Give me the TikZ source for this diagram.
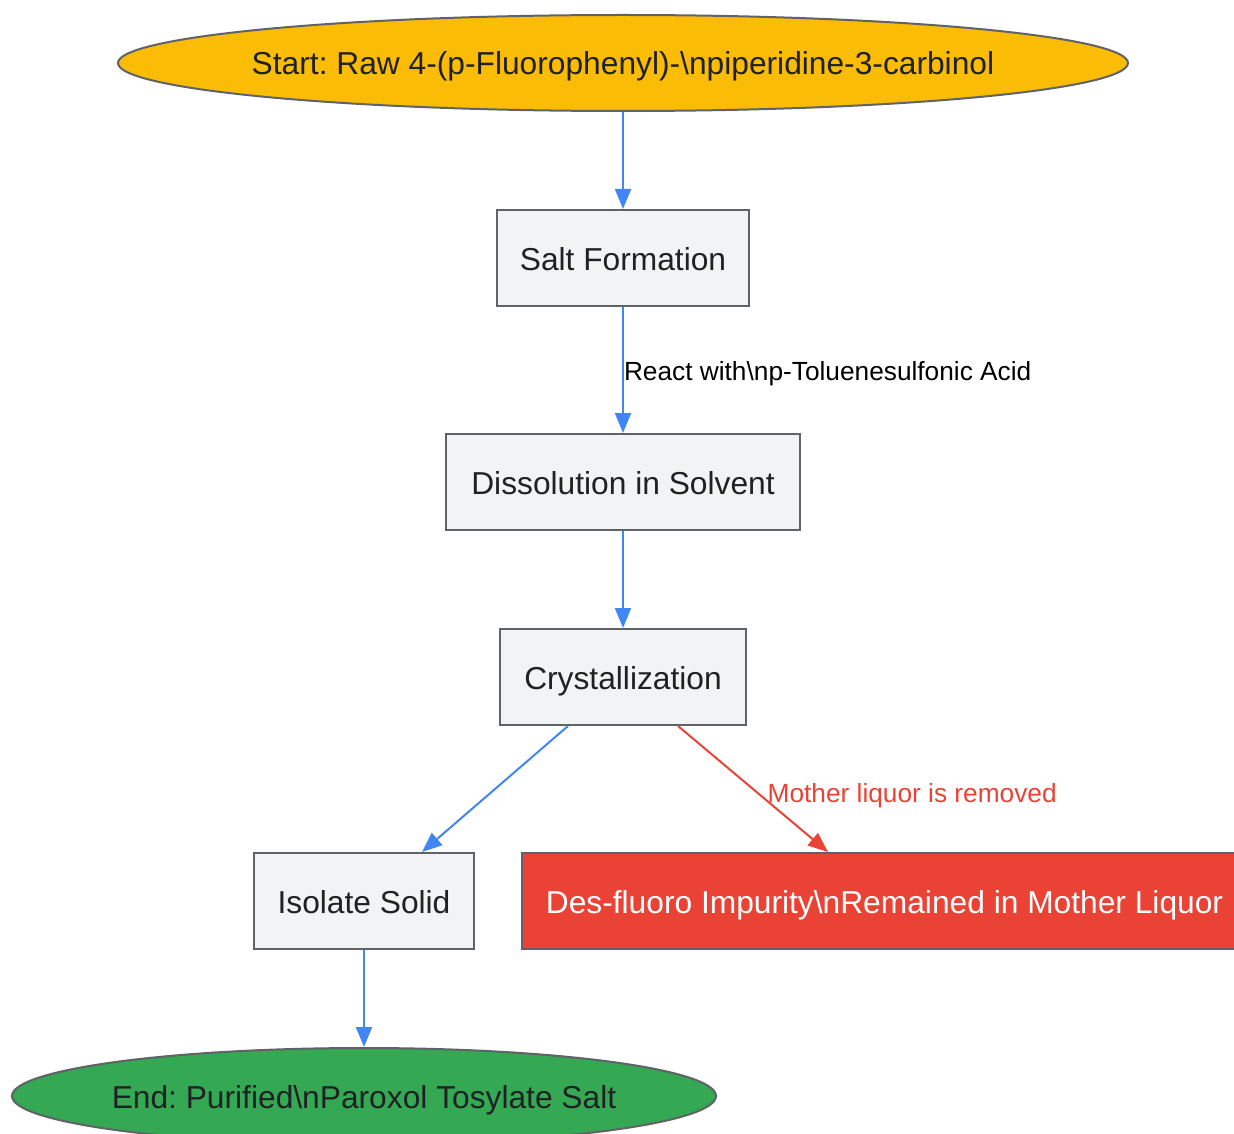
\documentclass[tikz,border=0pt]{standalone}
\usepackage{fontspec}
\setmainfont{Liberation Sans}
\usetikzlibrary{shapes.geometric,arrows.meta}
\frenchspacing

\definecolor{gborder}{HTML}{5F6368}
\definecolor{gtext}{HTML}{202124}
\definecolor{gbox}{HTML}{F1F3F4}
\definecolor{gblue}{HTML}{4285F4}
\definecolor{gred}{HTML}{EA4335}
\definecolor{ggreen}{HTML}{34A853}
\definecolor{gyellow}{HTML}{FBBC05}

\begin{document}
\begin{tikzpicture}[
            x = 0.75pt, y = -0.75pt,
            every node/.style = {font=\fontsize{23.8pt}{28pt}\selectfont, text=gtext,
                                 text height=23pt, text depth=5pt},
            stepbox/.style = {draw=gborder, line width=1.5pt, fill=gbox, rectangle,
                              minimum height=72pt, inner sep=0pt},
            terminal/.style = {draw=gborder, line width=1.5pt, ellipse,
                               minimum height=72pt, inner ysep=0pt},
            flow/.style = {draw=gblue, line width=1.5pt, -{Triangle[length=15pt, width=12pt]}},
            waste/.style = {draw=gred, line width=1.5pt, -{Triangle[length=15pt, width=12pt]}},
            edgelabel/.style = {font=\fontsize{19.7pt}{24pt}\selectfont, inner sep=0pt,
                                text height=20pt, text depth=4pt}]
            \useasboundingbox (0,0) rectangle (1234,1134);
            \node[terminal, fill=gyellow, minimum width=757.5pt, inner xsep=-13pt] (start) at (623,63)
                {Start: Raw 4-(p-Fluorophenyl)-\textbackslash npiperidine-3-carbinol};
            \node[stepbox, minimum width=189pt] (salt) at (623,258) {Salt Formation};
            \node[stepbox, minimum width=265.5pt] (dissolve) at (623,482) {Dissolution in Solvent};
            \node[stepbox, minimum width=184.5pt] (cryst) at (623,677) {Crystallization};
            \node[stepbox, minimum width=165pt] (isolate) at (364,901) {Isolate Solid};
            \node[stepbox, fill=gred, text=white, minimum width=543.75pt] (impurity) at (884.5,901)
                {Des-fluoro Impurity\textbackslash nRemained in Mother Liquor};
            \node[terminal, fill=ggreen, minimum width=528pt, inner xsep=-4pt] (finish) at (364,1096)
                {End: Purified\textbackslash nParoxol Tosylate Salt};

            % main line
            \draw[flow] (start) -- (salt);
            \draw[flow] (salt) -- node[edgelabel, anchor=west, text=black]
                {React with\textbackslash np-Toluenesulfonic Acid} (dissolve);
            \draw[flow] (dissolve) -- (cryst);
            \draw[flow] ([xshift=-41.25pt]cryst.south) -- ([xshift=43.5pt]isolate.north);
            \draw[flow] (isolate) -- (finish);

            % side branch
            \draw[waste] ([xshift=41.25pt]cryst.south) -- node[edgelabel, pos=0.52, anchor=west,
                xshift=8pt, text=gred] {Mother liquor is removed} ([xshift=-42.4pt]impurity.north);
        \end{tikzpicture}
\end{document}
